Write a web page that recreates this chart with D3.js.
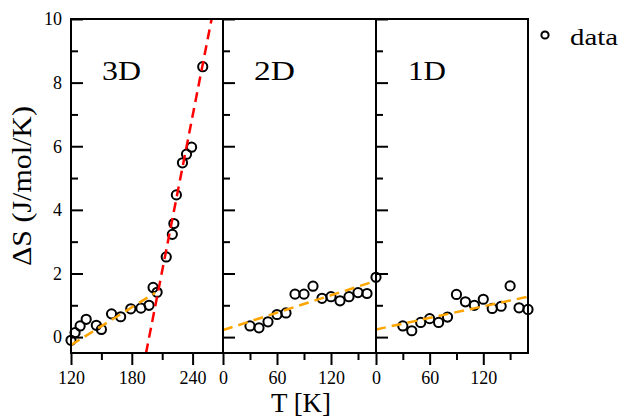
<!DOCTYPE html>
<html>
<head>
<meta charset="utf-8">
<script src="https://cdn.jsdelivr.net/npm/d3@7"></script>
<style>
  body { margin: 0; background: #fff; }
  text { font-family: "Liberation Serif", "Times New Roman", serif; fill: #000; }
</style>
</head>
<body>
<div id="chart"></div>
<script>
var svgWidth = 621;
var svgHeight = 417;

// 3D panel data
var t3D = [120, 124, 129, 135, 145, 150, 160, 169, 179, 189, 197, 201, 205, 214, 220, 221.5, 224, 230, 234, 239, 250];
var s3D = [-0.1, 0.14, 0.35, 0.56, 0.37, 0.24, 0.73, 0.64, 0.89, 0.91, 1.0, 1.56, 1.41, 2.52, 3.23, 3.57, 4.47, 5.48, 5.75, 5.97, 8.5];

// 2D panel data
var t2D = [30, 40, 50, 60, 70, 80, 90, 100, 110, 120, 130, 140, 150, 160, 170];
var s2D = [0.35, 0.29, 0.48, 0.71, 0.76, 1.35, 1.35, 1.6, 1.22, 1.27, 1.14, 1.27, 1.4, 1.37, 1.88];

// 1D panel data
var t1D = [30, 40, 50, 60, 70, 80, 90, 100, 110, 120, 130, 140, 150, 160, 170];
var s1D = [0.35, 0.2, 0.46, 0.58, 0.46, 0.63, 1.34, 1.11, 1.0, 1.19, 0.9, 0.97, 1.61, 0.92, 0.87];

// fit lines: [T start, T end, value at start, value at end]
var fitRed3D = [194, 260, -0.51, 10.2];
var fitOrange3D = [120, 203, -0.25, 1.39];
var fitOrange2D = [0, 170, 0.22, 1.77];
var fitOrange1D = [0, 170, 0.24, 1.27];

var yTicks = [0, 2, 4, 6, 8, 10];
var yMinor = [1, 3, 5, 7, 9];

var panelNames = ["3D", "2D", "1D"];
var xDomains = [[120, 270], [0, 170], [0, 170]];
var xMajor = [[120, 180, 240], [0, 60, 120], [0, 60, 120]];
var xMinor = [[150, 210], [30, 90, 150], [30, 90, 150]];

var panelLeft = [71, 223, 376];
var panelRight = [223, 376, 528];
var plotTop = 19, plotBottom = 353;

var svg = d3.select("#chart")
  .append("svg")
  .attr("width", svgWidth)
  .attr("height", svgHeight);

var yScale = d3.scaleLinear()
  .domain([-0.5, 10])
  .range([plotBottom, plotTop]);

var panels = [
  { t: t3D, s: s3D, fits: [[fitOrange3D, "#ffa500"], [fitRed3D, "#ff0000"]], lw: 39 },
  { t: t2D, s: s2D, fits: [[fitOrange2D, "#ffa500"]], lw: 41 },
  { t: t1D, s: s1D, fits: [[fitOrange1D, "#ffa500"]], lw: 38 }
];

var serif = '"Liberation Serif", "Times New Roman", serif';

panels.forEach(function(p, i) {
  var xScale = d3.scaleLinear()
    .domain(xDomains[i])
    .range([panelLeft[i], panelRight[i]]);

  var g = svg.append("g");

  g.append("clipPath")
    .attr("id", "clip" + i)
    .append("rect")
    .attr("x", panelLeft[i])
    .attr("y", plotTop)
    .attr("width", panelRight[i] - panelLeft[i])
    .attr("height", plotBottom - plotTop);

  // data circles
  g.selectAll("circle.pt")
    .data(p.t)
    .enter()
    .append("circle")
    .attr("class", "pt")
    .attr("cx", d => xScale(d))
    .attr("cy", (d, j) => yScale(p.s[j]))
    .attr("r", 4.6)
    .attr("fill", "none")
    .attr("stroke", "#000")
    .attr("stroke-width", 2);

  // dashed fits
  p.fits.forEach(function(f) {
    g.append("line")
      .attr("clip-path", "url(#clip" + i + ")")
      .attr("x1", xScale(f[0][0]))
      .attr("x2", xScale(f[0][1]))
      .attr("y1", yScale(f[0][2]))
      .attr("y2", yScale(f[0][3]))
      .attr("stroke", f[1])
      .attr("stroke-width", 2.5)
      .attr("stroke-dasharray", "10,6");
  });

  // bottom axis, ticks outward
  var bottomAxis = d3.axisBottom(xScale)
    .tickValues(xMajor[i])
    .tickSize(12)
    .tickPadding(6)
    .tickFormat(d3.format("d"));
  var ax = g.append("g")
    .attr("transform", `translate(0, ${plotBottom})`)
    .call(bottomAxis);
  ax.select(".domain").remove();
  ax.selectAll("line").attr("stroke-width", 2);
  ax.selectAll("text").attr("font-size", 18).attr("fill", "#000")
    .style("font-family", serif);

  var axMinor = g.append("g")
    .attr("transform", `translate(0, ${plotBottom})`)
    .call(d3.axisBottom(xScale).tickValues(xMinor[i]).tickSize(7).tickFormat(""));
  axMinor.select(".domain").remove();
  axMinor.selectAll("line").attr("stroke-width", 2);

  // left axis, ticks inward
  var ay = g.append("g")
    .attr("transform", `translate(${panelLeft[i]}, 0)`)
    .call(d3.axisRight(yScale).tickValues(yTicks).tickSize(12).tickFormat(""));
  ay.select(".domain").remove();
  ay.selectAll("line").attr("stroke-width", 2);

  var ayMinor = g.append("g")
    .attr("transform", `translate(${panelLeft[i]}, 0)`)
    .call(d3.axisRight(yScale).tickValues(yMinor).tickSize(7).tickFormat(""));
  ayMinor.select(".domain").remove();
  ayMinor.selectAll("line").attr("stroke-width", 2);

  if (i === 0) {
    var labels = g.append("g")
      .attr("transform", `translate(${panelLeft[i]}, 0)`)
      .call(d3.axisLeft(yScale).tickValues(yTicks).tickSize(0).tickPadding(9));
    labels.select(".domain").remove();
    labels.selectAll("text").attr("font-size", 18).attr("fill", "#000")
      .style("font-family", serif);
  }

  // frame
  g.append("rect")
    .attr("x", panelLeft[i])
    .attr("y", plotTop)
    .attr("width", panelRight[i] - panelLeft[i])
    .attr("height", plotBottom - plotTop)
    .attr("fill", "none")
    .attr("stroke", "#000")
    .attr("stroke-width", 2);

  // panel label
  g.append("text")
    .attr("x", panelLeft[i] + (i === 2 ? 32 : 31))
    .attr("y", 80)
    .attr("font-size", 28)
    .attr("textLength", p.lw)
    .attr("lengthAdjust", "spacingAndGlyphs")
    .text(panelNames[i]);
});

// axis titles
svg.append("text")
  .attr("transform", "translate(31, 186) rotate(-90)")
  .attr("text-anchor", "middle")
  .attr("font-size", 27)
  .attr("textLength", 160)
  .attr("lengthAdjust", "spacingAndGlyphs")
  .text("ΔS (J/mol/K)");

svg.append("text")
  .attr("x", 301)
  .attr("y", 412)
  .attr("text-anchor", "middle")
  .attr("font-size", 27)
  .text("T [K]");

// legend
svg.append("circle")
  .attr("cx", 545)
  .attr("cy", 35)
  .attr("r", 3.6)
  .attr("fill", "none")
  .attr("stroke", "#000")
  .attr("stroke-width", 2);

svg.append("text")
  .attr("x", 570)
  .attr("y", 45)
  .attr("font-size", 24)
  .attr("textLength", 48)
  .attr("lengthAdjust", "spacingAndGlyphs")
  .text("data");
</script>
</body>
</html>
